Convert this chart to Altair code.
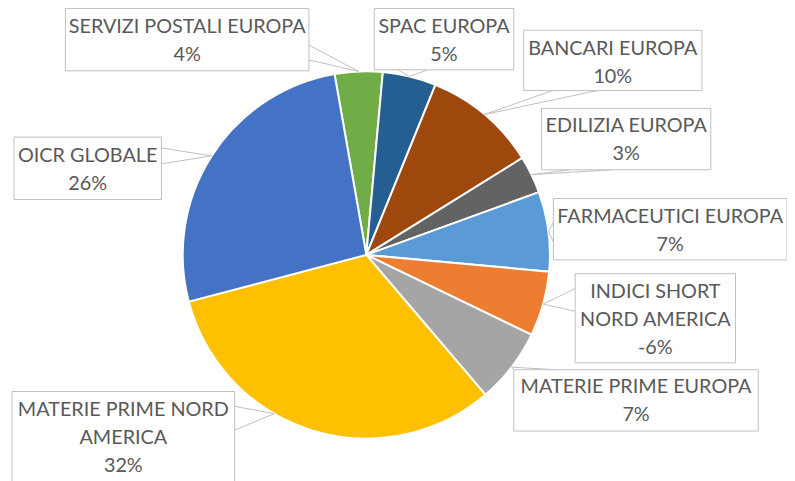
import math
import altair as alt
import pandas as pd

# ---------------- data ----------------
categories = [
    "SERVIZI POSTALI EUROPA",
    "SPAC EUROPA",
    "BANCARI EUROPA",
    "EDILIZIA EUROPA",
    "FARMACEUTICI EUROPA",
    "INDICI SHORT NORD AMERICA",
    "MATERIE PRIME EUROPA",
    "MATERIE PRIME NORD AMERICA",
    "OICR GLOBALE",
]
values = [4.2, 4.7, 10.0, 3.3, 7.0, -5.7, 6.6, 32.1, 26.3]
colors = ["#70AD47", "#255E91", "#9E480E", "#636363", "#5B9BD5",
          "#ED7D31", "#A5A5A5", "#FFC000", "#4472C4"]

# ---------------- layout ----------------
OFF = 8  # page margin
CX, CY, R = 370 - OFF, 255 - OFF, 185.5
START_DEG = -9.97
LINE_H = 28

wrapped = {
    "INDICI SHORT NORD AMERICA": "INDICI SHORT\nNORD AMERICA",
    "MATERIE PRIME NORD AMERICA": "MATERIE PRIME NORD\nAMERICA",
}
# box (x1, y1, x2, y2), first text line centre y, two callout base points,
# anchor fraction within slice
label_layout = {
    "SERVIZI POSTALI EUROPA": ((66, 6, 312, 69), 25, (312, 43), (312, 58), 0.5),
    "SPAC EUROPA": ((378, 6, 519, 68), 25, (402, 68), (432, 68), 0.5),
    "BANCARI EUROPA": ((529, 28, 709, 89), 47, (558, 89), (603, 89), 0.5),
    "EDILIZIA EUROPA": ((547, 107, 718, 169), 125, (576, 169), (618, 169), 0.5),
    "FARMACEUTICI EUROPA": ((559, 198, 795, 260), 217, (559, 222), (559, 242), 0.5),
    "INDICI SHORT NORD AMERICA": ((581, 274, 743, 364), 293, (581, 289), (581, 312), 0.5),
    "MATERIE PRIME EUROPA": ((519, 371, 766, 433), 389, (519, 371), (562, 371), 0.5),
    "MATERIE PRIME NORD AMERICA": ((12, 393, 237, 492), 412, (237, 408), (237, 432), 0.61),
    "OICR GLOBALE": ((14, 136, 163, 199), 155, (163, 147), (163, 163), 0.5),
}

abs_vals = [abs(v) for v in values]
total = sum(abs_vals)

pie_df = pd.DataFrame({
    "cat": categories,
    "val": values,
    "absval": abs_vals,
    "idx": list(range(len(categories))),
})

start = math.radians(START_DEG)
pie = alt.Chart(pie_df).mark_arc(outerRadius=R, stroke="white", strokeWidth=2).encode(
    theta=alt.Theta("absval:Q", stack=True,
                    scale=alt.Scale(range=[start, start + 2 * math.pi])),
    color=alt.Color("cat:N", scale=alt.Scale(domain=categories, range=colors), legend=None),
    order=alt.Order("idx:Q"),
    x=alt.value(CX),
    y=alt.value(CY),
)

# labels, boxes and leader lines
box_rows, seg_rows, txt_rows = [], [], []
cum = START_DEG
for cat, v, a in zip(categories, values, abs_vals):
    span = a / total * 360.0
    (bx1, by1, bx2, by2), ty1, p1, p2, frac = label_layout[cat]
    ang = math.radians(cum + frac * span)
    tx = CX + R * math.sin(ang)
    ty = CY - R * math.cos(ang)
    cum += span
    box_rows.append({"x": bx1 - OFF, "y": by1 - OFF, "x2": bx2 - OFF, "y2": by2 - OFF})
    for p in (p1, p2):
        seg_rows.append({"x": p[0] - OFF, "y": p[1] - OFF, "x2": tx, "y2": ty})
    pct = round(v / total * 100)
    txt_rows.append({
        "x": (bx1 + bx2) / 2 - OFF,
        "y": ty1 - OFF,
        "txt": wrapped.get(cat, cat) + "\n" + f"{pct}%",
    })

box_df = pd.DataFrame(box_rows)
seg_df = pd.DataFrame(seg_rows)
txt_df = pd.DataFrame(txt_rows)

segs = alt.Chart(seg_df).mark_rule(color="#BFBFBF", strokeWidth=1).encode(
    x=alt.X("x:Q", scale=None), y=alt.Y("y:Q", scale=None),
    x2="x2:Q", y2="y2:Q",
)
boxes = alt.Chart(box_df).mark_rect(fill="white", stroke="#BFBFBF", strokeWidth=1).encode(
    x=alt.X("x:Q", scale=None), y=alt.Y("y:Q", scale=None),
    x2="x2:Q", y2="y2:Q",
)
texts = alt.Chart(txt_df).mark_text(
    font="Lato", fontSize=20, color="#595959", lineBreak="\n",
    lineHeight=LINE_H, align="center", baseline="middle",
).encode(
    x=alt.X("x:Q", scale=None), y=alt.Y("y:Q", scale=None), text="txt:N",
)

chart = alt.layer(pie, segs, boxes, texts).properties(
    width=787, height=473, autosize=alt.AutoSizeParams(type="none"), padding=0,
    background="white",
).configure_view(stroke=None)

chart.save("out.html", embed_options={"renderer": "svg", "actions": False})
